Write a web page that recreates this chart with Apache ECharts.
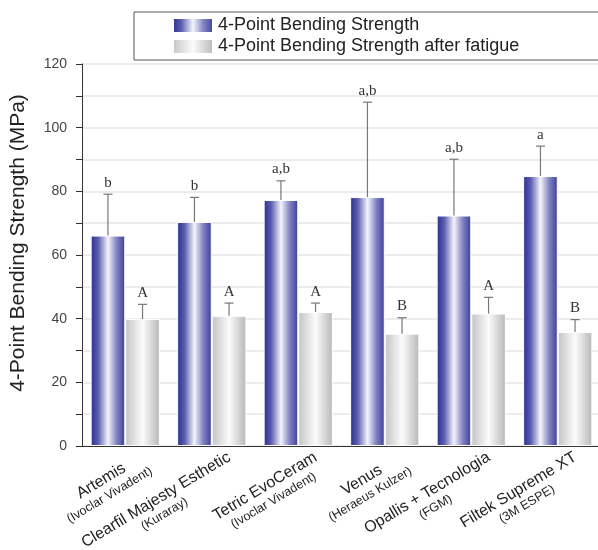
<!DOCTYPE html>
<html>
<head>
<meta charset="utf-8">
<script src="https://cdn.jsdelivr.net/npm/echarts@6/dist/echarts.min.js"></script>
<style>html,body{margin:0;padding:0;background:#fff}#c{width:598px;height:550px}</style>
</head>
<body>
<div id="c"></div>
<script>
var categories = ['Artemis', 'Clearfil Majesty Esthetic', 'Tetric EvoCeram', 'Venus', 'Opallis + Tecnologia', 'Filtek Supreme XT'];
var manufacturers = ['(Ivoclar Vivadent)', '(Kuraray)', '(Ivoclar Vivadent)', '(Heraeus Kulzer)', '(FGM)', '(3M ESPE)'];
var strength = [66.1, 70.4, 77.3, 78.2, 72.4, 84.8];
var strengthErr = [13.0, 7.7, 6.0, 29.8, 17.7, 9.4];
var fatigue = [39.9, 40.9, 42.1, 35.3, 41.6, 35.8];
var fatigueErr = [4.6, 4.0, 2.8, 5.0, 5.1, 3.9];
var strengthLetters = ['b', 'b', 'a,b', 'a,b', 'a,b', 'a'];
var fatigueLetters = ['A', 'A', 'A', 'B', 'A', 'B'];
var seriesNames = ['4-Point Bending Strength', '4-Point Bending Strength after fatigue'];
var yTicks = [0, 20, 40, 60, 80, 100, 120];

var blueGrad = {type: 'linear', x: 0, y: 0, x2: 1, y2: 0, colorStops: [
  {offset: 0, color: '#2b2f8e'}, {offset: 0.22, color: '#5c5eb0'}, {offset: 0.5, color: '#f4f4fb'},
  {offset: 0.75, color: '#8284c2'}, {offset: 1, color: '#3a3d98'}]};
var grayGrad = {type: 'linear', x: 0, y: 0, x2: 1, y2: 0, colorStops: [
  {offset: 0, color: '#c2c3c5'}, {offset: 0.5, color: '#fbfbfb'}, {offset: 1, color: '#b6b7b9'}]};

var chart = echarts.init(document.getElementById('c'), null, {renderer: 'canvas'});

function errSeries(vals, errs, letters, side) {
  return {
    type: 'custom', xAxisIndex: 0, z: 5,
    data: vals.map(function (v, i) { return [i, v, v + errs[i]]; }),
    renderItem: function (params, api) {
      var band = api.size([1, 0])[0];
      var bw = band * 0.4;
      var base = api.coord([api.value(0), api.value(1)]);
      var top = api.coord([api.value(0), api.value(2)]);
      var x = base[0] + side * bw / 2;
      var st = {stroke: '#777', lineWidth: 1.2};
      return {type: 'group', children: [
        {type: 'line', shape: {x1: x, y1: base[1], x2: x, y2: top[1]}, style: st},
        {type: 'line', shape: {x1: x - 4.5, y1: top[1], x2: x + 4.5, y2: top[1]}, style: st},
        {type: 'text', style: {x: x, y: top[1] - 4, text: letters[params.dataIndex], textAlign: 'center', textVerticalAlign: 'bottom',
          font: '15px "Liberation Serif", "Times New Roman", serif', fill: '#333'}}
      ]};
    }
  };
}

chart.setOption({
  animation: false,
  legend: {
    data: seriesNames, orient: 'vertical', left: 134, top: 12,
    padding: [4.5, 81, 4.5, 38], itemGap: 3, itemWidth: 40, itemHeight: 15,
    borderColor: '#555', borderWidth: 1, borderRadius: 0,
    textStyle: {fontFamily: '"Liberation Sans", Arial, sans-serif', fontSize: 18, lineHeight: 18, color: '#222'},
    icon: 'rect'
  },
  grid: {left: 82, top: 64, width: 519, height: 382, containLabel: false, outerBoundsMode: 'none'},
  xAxis: [{
    type: 'category', data: categories,
    axisLine: {lineStyle: {color: '#333', width: 1}},
    axisTick: {alignWithLabel: true, length: 6, lineStyle: {color: '#333'}},
    axisLabel: {
      interval: 0, rotate: 31, margin: 10, align: 'right', verticalAlign: 'top',
      padding: [0, -15, 0, 0],
      formatter: function (v, i) { return '{a|' + v + '}\n{b|' + manufacturers[i] + '}'; },
      rich: {
        a: {fontFamily: '"Liberation Sans", Arial, sans-serif', fontSize: 16, color: '#222', align: 'center', lineHeight: 18},
        b: {fontFamily: '"Liberation Sans", Arial, sans-serif', fontSize: 12.5, color: '#222', align: 'center', lineHeight: 15}
      }
    }
  }, {
    type: 'category', data: categories, position: 'bottom',
    axisLine: {show: false}, axisLabel: {show: false},
    axisTick: {length: 5, lineStyle: {color: '#333'}}
  }],
  yAxis: {
    type: 'value', min: 0, max: 120, interval: 20,
    name: '4-Point Bending Strength (MPa)', nameLocation: 'middle', nameGap: 53,
    nameTextStyle: {fontFamily: '"Liberation Sans", Arial, sans-serif', fontSize: 21, color: '#222', padding: [0, 0, 0, 24]},
    axisLine: {show: true, lineStyle: {color: '#333'}},
    axisTick: {show: true, length: 6, lineStyle: {color: '#333'}},
    minorTick: {show: true, splitNumber: 2, length: 6, lineStyle: {color: '#333'}},
    axisLabel: {margin: 15, fontFamily: '"Liberation Sans", Arial, sans-serif', fontSize: 14, color: '#444',
      formatter: function (v) { return yTicks.indexOf(v) >= 0 ? String(v) : ''; }},
    splitLine: {lineStyle: {color: '#e6e6e6', width: 1.5}},
    minorSplitLine: {show: true, lineStyle: {color: '#e6e6e6', width: 1.5}}
  },
  series: [
    {name: seriesNames[0], type: 'bar', data: strength, barGap: '0%', barCategoryGap: '20%',
      itemStyle: {color: blueGrad, borderColor: '#fff', borderWidth: 1}},
    {name: seriesNames[1], type: 'bar', data: fatigue, barGap: '0%', barCategoryGap: '20%',
      itemStyle: {color: grayGrad, borderColor: '#fff', borderWidth: 1}},
    errSeries(strength, strengthErr, strengthLetters, -1),
    errSeries(fatigue, fatigueErr, fatigueLetters, 1)
  ]
});
</script>
</body>
</html>
